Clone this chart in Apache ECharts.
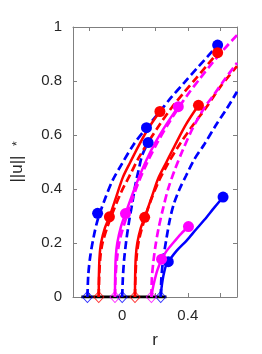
<!DOCTYPE html>
<html>
<head>
<meta charset="utf-8">
<script src="https://cdn.jsdelivr.net/npm/echarts@6/dist/echarts.min.js"></script>
<style>
html,body{margin:0;padding:0;background:#fff;}
#chart{width:262px;height:354px;}
</style>
</head>
<body>
<div id="chart"></div>
<script>
// ---- data (r, ||u||*) ----
const xTicks = [-0.2, 0, 0.2, 0.4, 0.6];
const xTickLabels = [0, 0.4];
const yTicks = [0, 0.2, 0.4, 0.6, 0.8, 1];

const blueDash1 = [[-0.212,0],[-0.207,0.08],[-0.195,0.15],[-0.175,0.22],[-0.15,0.285],[-0.11,0.355],[-0.06,0.43],[0.0,0.495],[0.07,0.565],[0.148,0.627],[0.22,0.68],[0.30,0.74],[0.38,0.795],[0.46,0.85],[0.52,0.89],[0.582,0.933]];
const blueDash2 = [[0.0,0],[0.004,0.07],[0.012,0.14],[0.025,0.21],[0.042,0.28],[0.062,0.35],[0.082,0.42],[0.10,0.47],[0.122,0.525],[0.158,0.572]];
const blueDash3 = [[0.235,0],[0.239,0.07],[0.25,0.14],[0.268,0.21],[0.29,0.285],[0.315,0.345],[0.35,0.40],[0.39,0.45],[0.44,0.51],[0.50,0.565],[0.57,0.635],[0.64,0.70],[0.70,0.76]];
const blueSolid3 = [[0.235,0],[0.239,0.03],[0.247,0.065],[0.257,0.095],[0.268,0.118],[0.281,0.131],[0.33,0.17],[0.394,0.21],[0.45,0.25],[0.50,0.285],[0.56,0.33],[0.615,0.37]];

const redSolid1 = [[-0.143,0],[-0.142,0.08],[-0.138,0.15],[-0.129,0.2],[-0.106,0.255],[-0.078,0.297],[-0.037,0.37],[0.004,0.443],[0.05,0.50],[0.10,0.56],[0.16,0.625],[0.23,0.687]];
const redDash1 = [[-0.143,0],[-0.140,0.08],[-0.133,0.15],[-0.12,0.2],[-0.09,0.26],[-0.05,0.325],[-0.005,0.39],[0.05,0.455],[0.10,0.515],[0.16,0.575],[0.23,0.64],[0.30,0.70],[0.38,0.76],[0.45,0.81],[0.52,0.86],[0.582,0.905]];
const redSolid2 = [[0.078,0],[0.079,0.08],[0.083,0.15],[0.092,0.2],[0.113,0.255],[0.137,0.295],[0.18,0.37],[0.22,0.44],[0.27,0.50],[0.32,0.56],[0.39,0.64],[0.465,0.71]];
const redDash2 = [[0.078,0],[0.081,0.08],[0.088,0.15],[0.102,0.21],[0.13,0.275],[0.17,0.35],[0.22,0.425],[0.28,0.495],[0.35,0.565],[0.43,0.635],[0.51,0.70],[0.60,0.78],[0.70,0.855]];

const magSolid1 = [[-0.044,0],[-0.043,0.08],[-0.039,0.15],[-0.03,0.2],[-0.008,0.26],[0.02,0.309],[0.062,0.38],[0.10,0.44],[0.15,0.51],[0.20,0.57],[0.27,0.64],[0.342,0.705]];
const magDash1 = [[-0.044,0],[-0.041,0.07],[-0.032,0.14],[-0.015,0.21],[0.02,0.285],[0.06,0.36],[0.10,0.425],[0.15,0.495],[0.22,0.578],[0.29,0.65],[0.342,0.699],[0.40,0.75],[0.47,0.806],[0.55,0.867],[0.62,0.917],[0.70,0.97]];
const magSolid2 = [[0.178,0],[0.186,0.03],[0.197,0.06],[0.212,0.095],[0.227,0.12],[0.24,0.14],[0.27,0.17],[0.31,0.2],[0.36,0.235],[0.404,0.261]];
const magDash2 = [[0.178,0],[0.181,0.07],[0.19,0.13],[0.203,0.19],[0.222,0.255],[0.25,0.33],[0.28,0.40],[0.32,0.47],[0.37,0.545],[0.43,0.625],[0.50,0.70],[0.56,0.75],[0.63,0.81],[0.70,0.867]];

const blueDots = [[-0.15,0.31],[0.148,0.627],[0.158,0.572],[0.582,0.933],[0.281,0.131],[0.615,0.37]];
const redDots = [[-0.078,0.297],[0.23,0.687],[0.582,0.905],[0.137,0.295],[0.465,0.71]];
const magDots = [[0.02,0.309],[0.342,0.705],[0.24,0.14],[0.404,0.261]];

const blueDiamonds = [[-0.212,0],[0.0,0],[0.235,0]];
const redDiamonds = [[-0.143,0],[0.078,0]];
const magDiamonds = [[-0.044,0],[0.178,0]];

const baseLine = [[-0.249,0],[0.27,0]];

// ---- styles ----
const BLUE = '#0000ff', RED = '#ff0000', MAG = '#ff00ff';
const FONT = "'Liberation Sans', Arial, Helvetica, sans-serif";
const AX = '#7f7f7f';
const TXT = '#262626';

function curve(data, color, dashed) {
  return {
    type: 'line', data: data, smooth: 0.3, symbol: 'none',
    lineStyle: { color: color, width: dashed ? 2.7 : 2.5, type: dashed ? [8, 4] : 'solid', cap: 'butt' },
    z: dashed ? 2 : 3, silent: true, animation: false
  };
}
function dots(data, color) {
  return { type: 'scatter', data: data, symbol: 'circle', symbolSize: 11,
    itemStyle: { color: color, opacity: 1 }, z: 5, silent: true, animation: false };
}
function diamonds(data, color) {
  return { type: 'scatter', data: data, symbol: 'diamond', symbolSize: [10, 11],
    itemStyle: { color: 'rgba(0,0,0,0)', borderColor: color, borderWidth: 1 }, z: 6, silent: true, animation: false };
}

const chart = echarts.init(document.getElementById('chart'), null, { renderer: 'canvas' });
chart.setOption({
  animation: false,
  backgroundColor: '#fff',
  grid: { left: 73, right: 25, top: 27, bottom: 52 },
  xAxis: [{
    type: 'value', min: -0.3, max: 0.7, position: 'bottom',
    axisLine: { show: true, onZero: false, lineStyle: { color: AX, width: 1 } },
    axisTick: { show: true, inside: true, length: 4, customValues: xTicks, lineStyle: { color: AX } },
    axisLabel: { customValues: xTickLabels, formatter: v => String(v), fontSize: 15, color: TXT, fontFamily: FONT, margin: 11 },
    splitLine: { show: false },
    name: 'r', nameLocation: 'middle', nameGap: 35,
    nameTextStyle: { fontSize: 17, color: TXT, fontFamily: FONT }
  }, {
    type: 'value', min: -0.3, max: 0.7, position: 'top',
    axisLine: { show: true, onZero: false, lineStyle: { color: AX, width: 1 } },
    axisTick: { show: true, inside: true, length: 4, customValues: xTicks, lineStyle: { color: AX } },
    axisLabel: { show: false }, splitLine: { show: false }
  }],
  yAxis: [{
    type: 'value', min: 0, max: 1, interval: 0.2, position: 'left',
    axisLine: { show: true, onZero: false, lineStyle: { color: AX, width: 1 } },
    axisTick: { show: true, inside: true, length: 4, lineStyle: { color: AX } },
    axisLabel: { fontSize: 15, color: TXT, fontFamily: FONT, margin: 11 },
    splitLine: { show: false },
    name: '||u||  {s|*}', nameLocation: 'middle', nameGap: 47, nameRotate: 90,
    nameTextStyle: { fontSize: 17, color: TXT, fontFamily: FONT,
      rich: { s: { fontSize: 12, color: TXT, fontFamily: FONT } } }
  }, {
    type: 'value', min: 0, max: 1, interval: 0.2, position: 'right',
    axisLine: { show: true, onZero: false, lineStyle: { color: AX, width: 1 } },
    axisTick: { show: true, inside: true, length: 4, lineStyle: { color: AX } },
    axisLabel: { show: false }, splitLine: { show: false }
  }],
  series: [
    { type: 'line', data: baseLine, symbol: 'none', lineStyle: { color: '#000', width: 3 }, z: 1, silent: true },
    curve(blueDash1, BLUE, true),
    curve(blueDash2, BLUE, true),
    curve(blueDash3, BLUE, true),
    curve(redDash1, RED, true),
    curve(redDash2, RED, true),
    curve(magDash1, MAG, true),
    curve(magDash2, MAG, true),
    curve(redSolid1, RED, false),
    curve(magSolid1, MAG, false),
    curve(redSolid2, RED, false),
    curve(magSolid2, MAG, false),
    curve(blueSolid3, BLUE, false),
    dots(blueDots, BLUE),
    dots(redDots, RED),
    dots(magDots, MAG),
    diamonds(blueDiamonds, BLUE),
    diamonds(redDiamonds, RED),
    diamonds(magDiamonds, MAG)
  ]
});
</script>
</body>
</html>
